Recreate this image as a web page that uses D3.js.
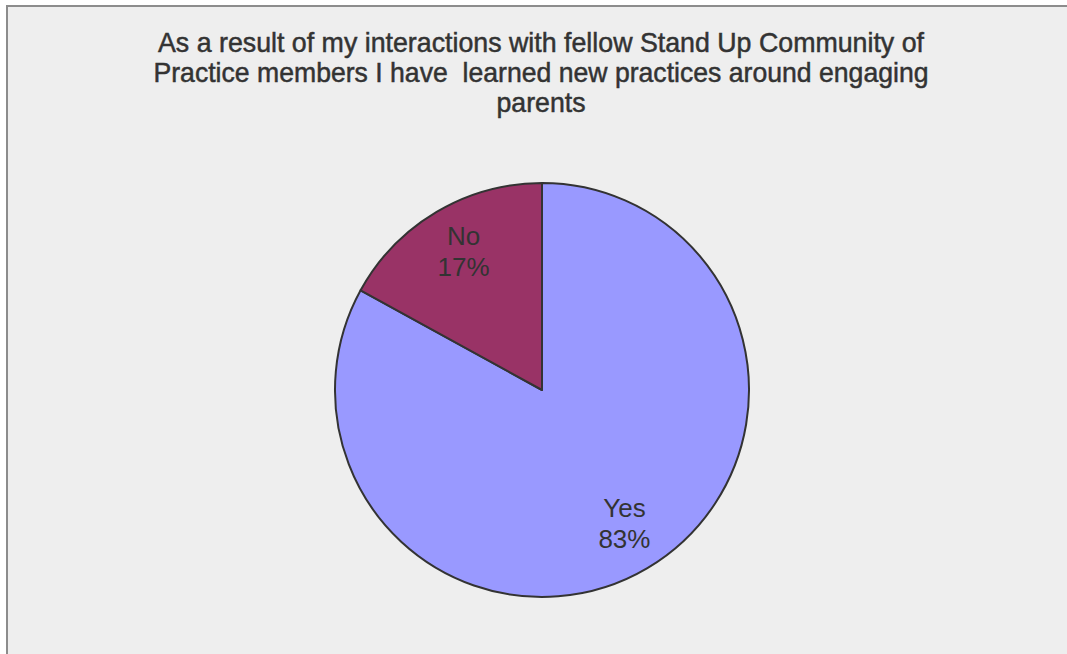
<!DOCTYPE html>
<html>
<head>
<meta charset="utf-8">
<script src="https://cdn.jsdelivr.net/npm/d3@7"></script>
<style>
  html, body { margin: 0; padding: 0; background: #ffffff; }
  svg { display: block; }
</style>
</head>
<body>
<svg id="chart" width="1067" height="654"></svg>
<script>
// Survey responses
const categories = ["Yes", "No"];
const values = [83, 17];
const colors = ["#9999ff", "#993366"];
const titleLines = [
  "As a result of my interactions with fellow Stand Up Community of",
  "Practice members I have  learned new practices around engaging",
  "parents"
];
const titleWidths = [766, 775, 89];

const W = 1067, H = 654;
const svg = d3.select("#chart");

// Chart area with frame
svg.append("rect")
  .attr("x", 7).attr("y", 6)
  .attr("width", W).attr("height", H)
  .attr("fill", "#eeeeee")
  .attr("stroke", "#8c8c8c")
  .attr("stroke-width", 2);

// Title: condensed, slightly heavy
const title = svg.append("g")
  .attr("font-family", "'Liberation Sans Narrow', 'Liberation Sans', Arial, sans-serif")
  .attr("font-size", 28)
  .attr("fill", "#333333")
  .attr("stroke", "#333333")
  .attr("stroke-width", 0.5)
  .attr("text-anchor", "middle");
titleLines.forEach((t, i) => {
  title.append("text")
    .attr("x", 541)
    .attr("y", 52 + i * 30)
    .attr("textLength", titleWidths[i])
    .attr("lengthAdjust", "spacingAndGlyphs")
    .attr("xml:space", "preserve")
    .text(t);
});

// Pie
const cx = 542, cy = 390, radius = 207;
const pie = d3.pie().sort(null).value(d => d.value);
const data = categories.map((c, i) => ({ name: c, value: values[i], color: colors[i] }));
const arcs = pie(data);
const arc = d3.arc().innerRadius(0).outerRadius(radius);
const labelArc = d3.arc().innerRadius(158).outerRadius(158);

const g = svg.append("g").attr("transform", `translate(${cx},${cy})`);
g.selectAll("path.slice")
  .data(arcs)
  .join("path")
  .attr("class", "slice")
  .attr("d", arc)
  .attr("fill", d => d.data.color)
  .attr("stroke", "#333333")
  .attr("stroke-width", 2)
  .attr("stroke-linejoin", "round");

const total = d3.sum(values);
const labels = g.selectAll("text.lbl")
  .data(arcs)
  .join("text")
  .attr("class", "lbl")
  .attr("font-family", "'Liberation Sans', Arial, sans-serif")
  .attr("font-size", 26)
  .attr("fill", "#333333")
  .attr("text-anchor", "middle")
  .attr("transform", d => {
    const [x, y] = labelArc.centroid(d);
    return `translate(${x + 2},${y})`;
  });
labels.append("tspan").attr("x", 0).attr("y", -9).text(d => d.data.name);
labels.append("tspan").attr("x", 0).attr("y", 22)
  .text(d => Math.round(d.data.value / total * 100) + "%");
</script>
</body>
</html>
